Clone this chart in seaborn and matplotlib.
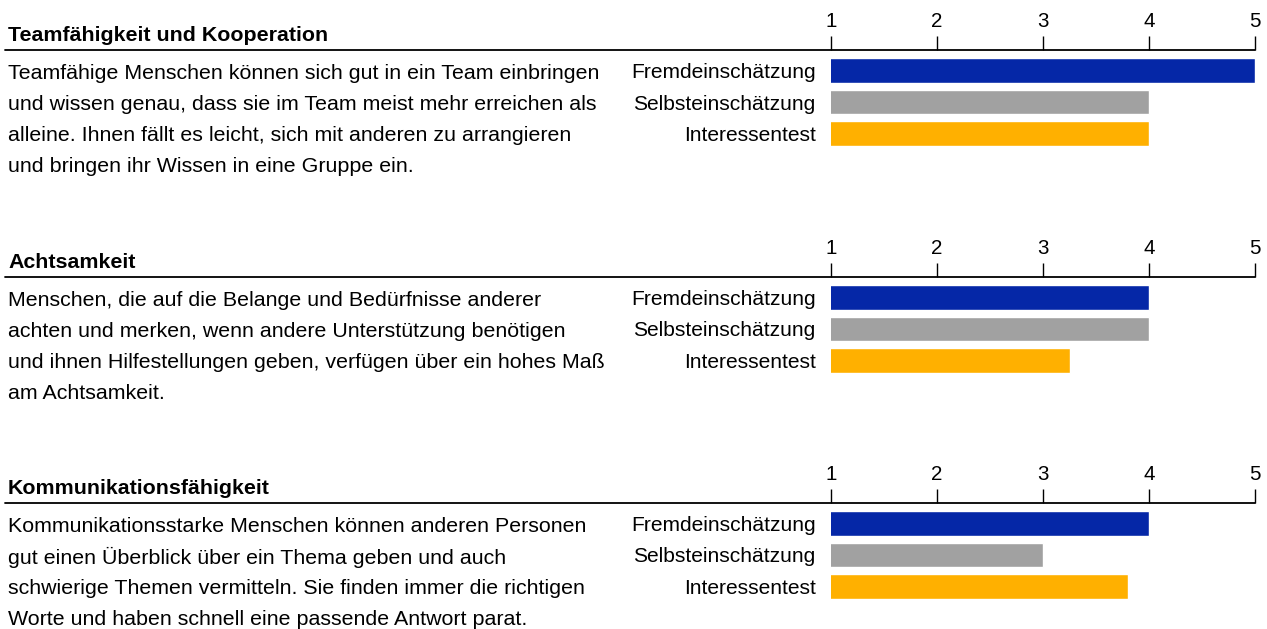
import matplotlib
matplotlib.use("Agg")
import matplotlib.pyplot as plt
from matplotlib.lines import Line2D
import seaborn as sns

sns.set_style("white")
plt.rcParams["font.family"] = ["Liberation Sans", "DejaVu Sans"]
plt.rcParams.update({"text.color": "black", "xtick.color": "black",
                     "ytick.color": "black", "axes.labelcolor": "black"})

# data
titles = ["Teamfähigkeit und Kooperation", "Achtsamkeit", "Kommunikationsfähigkeit"]
descriptions = [
    ["Teamfähige Menschen können sich gut in ein Team einbringen",
     "und wissen genau, dass sie im Team meist mehr erreichen als",
     "alleine. Ihnen fällt es leicht, sich mit anderen zu arrangieren",
     "und bringen ihr Wissen in eine Gruppe ein."],
    ["Menschen, die auf die Belange und Bedürfnisse anderer",
     "achten und merken, wenn andere Unterstützung benötigen",
     "und ihnen Hilfestellungen geben, verfügen über ein hohes Maß",
     "am Achtsamkeit."],
    ["Kommunikationsstarke Menschen können anderen Personen",
     "gut einen Überblick über ein Thema geben und auch",
     "schwierige Themen vermitteln. Sie finden immer die richtigen",
     "Worte und haben schnell eine passende Antwort parat."],
]
categories = ["Fremdeinschätzung", "Selbsteinschätzung", "Interessentest"]
fremd = [5, 4, 4]
selbst = [4, 4, 3]
interesse = [4, 3.25, 3.8]
scale_ticks = [1, 2, 3, 4, 5]
bar_colors = ["#0527A7", "#A1A1A1", "#FFB000"]

W, H = 1267, 629
FS_TEXT = 15.4
FS_CAT = 15.1
FS_TICK = 14.8
fig = plt.figure(figsize=(W / 100, H / 100), dpi=100)

line_y = [50, 277, 503]   # pixel rows of the section rules
ax_left, ax_right = 831, 1255

for i, title in enumerate(titles):
    y0 = line_y[i]
    values = [fremd[i], selbst[i], interesse[i]]

    fig.add_artist(Line2D([5 / W, ax_right / W], [1 - y0 / H] * 2,
                          color="black", lw=1.3, transform=fig.transFigure))
    fig.text(8 / W, 1 - (y0 - 9) / H, title, fontsize=FS_TEXT, fontweight="bold",
             ha="left", va="baseline")
    for j, line in enumerate(descriptions[i]):
        fig.text(8 / W, 1 - (y0 + 23.5 + j * 31) / H, line, fontsize=FS_TEXT,
                 ha="left", va="center")

    ax = fig.add_axes([ax_left / W, 1 - (y0 + 104) / H, (ax_right - ax_left) / W, 104 / H])
    sns.barplot(x=values, y=categories, hue=categories, palette=bar_colors,
                legend=False, width=0.78, saturation=1, ax=ax)
    ax.set_xlim(1, 5)
    ax.set_ylim(2.65, -0.65)
    ax.patch.set_alpha(0)
    for s in ax.spines.values():
        s.set_visible(False)
    ax.xaxis.tick_top()
    ax.set_xticks(scale_ticks)
    ax.set_xticklabels([str(t) for t in scale_ticks])
    ax.tick_params(axis="x", direction="out", length=10, width=1, pad=4,
                   labelsize=FS_TICK, colors="black")
    ax.tick_params(axis="y", length=0, pad=11, labelsize=FS_CAT)
    ax.set_xlabel("")
    ax.set_ylabel("")

fig.savefig("out.png", dpi=100)
